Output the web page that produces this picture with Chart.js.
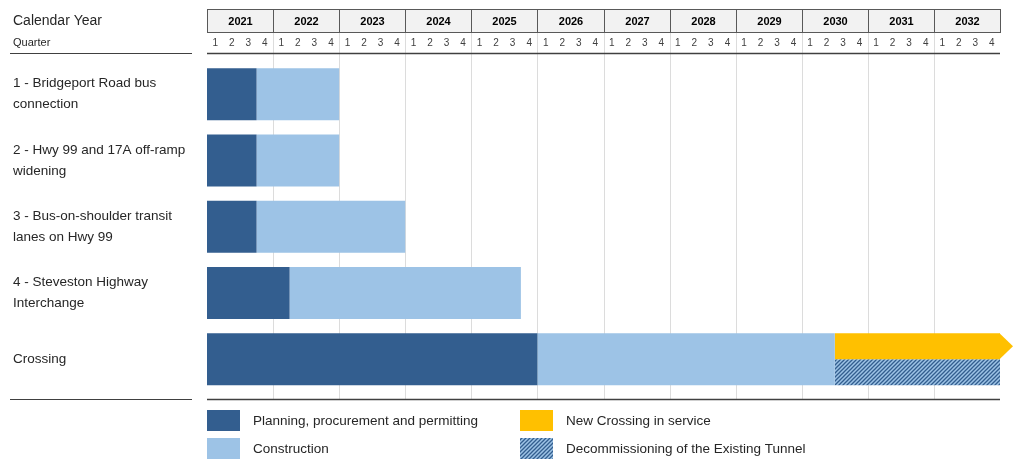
<!DOCTYPE html>
<html>
<head>
<meta charset="utf-8">
<script src="https://cdn.jsdelivr.net/npm/chart.js@4/dist/chart.umd.min.js"></script>
<style>
  html, body { margin: 0; padding: 0; background: #ffffff; }
  #wrap { width: 1024px; height: 468px; position: relative; }
</style>
</head>
<body>
<div id="wrap"><canvas id="c"></canvas></div>
<script>
// ---- data ----
const categories = [
  ['1 - Bridgeport Road bus', 'connection'],
  ['2 - Hwy 99 and 17A off-ramp', 'widening'],
  ['3 - Bus-on-shoulder transit', 'lanes on Hwy 99'],
  ['4 - Steveston Highway', 'Interchange'],
  'Crossing'
];
const planning = [[2021, 2021.75], [2021, 2021.75], [2021, 2021.75], [2021, 2022.25], [2021, 2026]];
const construction = [[2021.75, 2023], [2021.75, 2023], [2021.75, 2024], [2022.25, 2025.75], [2026, 2030.5]];
const newCrossingInService = [null, null, null, null, [2030.5, 2033]];
const decommissioning = [null, null, null, null, [2030.5, 2033]];
const yearTicks = [2021, 2022, 2023, 2024, 2025, 2026, 2027, 2028, 2029, 2030, 2031, 2032];
const quarterTicks = ['1', '2', '3', '4'];
const seriesLabels = ['Planning, procurement and permitting', 'Construction', 'New Crossing in service', 'Decommissioning of the Existing Tunnel'];

// ---- style ----
const DARK = '#335e8f';
const LIGHT = '#9dc3e6';
const YELLOW = '#ffc000';
const FONT = '"Liberation Sans", Arial, sans-serif';

function makeHatch() {
  const p = document.createElement('canvas');
  p.width = 4; p.height = 4;
  const g = p.getContext('2d');
  g.fillStyle = LIGHT; g.fillRect(0, 0, 4, 4);
  g.strokeStyle = DARK; g.lineWidth = 1.3;
  g.beginPath();
  g.moveTo(-1, 5); g.lineTo(5, -1);
  g.moveTo(-1, 1); g.lineTo(1, -1);
  g.moveTo(3, 5); g.lineTo(5, 3);
  g.stroke();
  return g.createPattern(p, 'repeat');
}
const HATCH = makeHatch();

const decor = {
  id: 'ganttDecor',
  beforeDatasetsDraw(chart) {
    const ctx = chart.ctx, xs = chart.scales.x;
    ctx.save();
    ctx.strokeStyle = '#dcdcdc';
    ctx.lineWidth = 1;
    for (const yr of yearTicks.slice(1)) {
      const px = Math.round(xs.getPixelForValue(yr)) + 0.5;
      ctx.beginPath(); ctx.moveTo(px, 33); ctx.lineTo(px, 399); ctx.stroke();
    }
    ctx.restore();
  },
  afterDatasetsDraw(chart) {
    const ctx = chart.ctx;
    const meta = chart.getDatasetMeta(2);
    const el = meta.data[4];
    if (!el) return;
    const p = el.getProps(['x', 'y', 'height'], true);
    ctx.save();
    ctx.fillStyle = YELLOW;
    ctx.beginPath();
    ctx.moveTo(p.x - 0.5, p.y - p.height / 2);
    ctx.lineTo(p.x + 13, p.y);
    ctx.lineTo(p.x - 0.5, p.y + p.height / 2);
    ctx.closePath();
    ctx.fill();
    ctx.restore();
  },
  afterDraw(chart) {
    const ctx = chart.ctx, xs = chart.scales.x;
    const left = xs.getPixelForValue(2021), right = xs.getPixelForValue(2033);
    ctx.save();
    // left header texts
    ctx.fillStyle = '#262626';
    ctx.textBaseline = 'middle';
    ctx.textAlign = 'left';
    ctx.font = '14px ' + FONT;
    ctx.fillText('Calendar Year', 13, 21);
    ctx.font = '11px ' + FONT;
    ctx.fillText('Quarter', 13, 43);
    // year boxes
    ctx.lineWidth = 1;
    for (const yr of yearTicks) {
      const a = Math.round(xs.getPixelForValue(yr)) + 0.5;
      const b = Math.round(xs.getPixelForValue(yr + 1)) + 0.5;
      ctx.fillStyle = '#f2f2f2';
      ctx.fillRect(a, 9.5, b - a, 23);
      ctx.strokeStyle = '#595959';
      ctx.strokeRect(a, 9.5, b - a, 23);
      ctx.fillStyle = '#000000';
      ctx.font = 'bold 11px ' + FONT;
      ctx.textAlign = 'center';
      ctx.fillText(String(yr), (a + b) / 2, 21.5);
      ctx.font = '10px ' + FONT;
      ctx.fillStyle = '#404040';
      quarterTicks.forEach((q, i) => {
        const cx = xs.getPixelForValue(yr + (i + 0.5) / 4);
        ctx.fillText(q, cx, 43);
      });
    }
    // rule lines
    ctx.strokeStyle = '#404040';
    ctx.lineWidth = 1.5;
    ctx.beginPath();
    ctx.moveTo(left, 53.5); ctx.lineTo(right, 53.5);
    ctx.moveTo(left, 399.5); ctx.lineTo(right, 399.5);
    ctx.stroke();
    ctx.lineWidth = 1;
    ctx.beginPath();
    ctx.moveTo(10, 53.5); ctx.lineTo(192, 53.5);
    ctx.moveTo(10, 399.5); ctx.lineTo(192, 399.5);
    ctx.stroke();
    // legend
    const fills = [DARK, LIGHT, YELLOW, HATCH];
    const pos = [[207, 410], [207, 438], [520, 410], [520, 438]];
    ctx.font = '13.5px ' + FONT;
    ctx.textAlign = 'left';
    seriesLabels.forEach((lab, i) => {
      const [x, y] = pos[i];
      ctx.fillStyle = fills[i];
      ctx.fillRect(x, y, 33, 21);
      ctx.fillStyle = '#262626';
      ctx.fillText(lab, x + 46, y + 11);
    });
    ctx.restore();
  }
};

new Chart(document.getElementById('c'), {
  type: 'bar',
  data: {
    labels: categories,
    datasets: [
      { label: seriesLabels[0], data: planning, backgroundColor: DARK, grouped: false, stack: 'a' },
      { label: seriesLabels[1], data: construction, backgroundColor: LIGHT, grouped: false, stack: 'a' },
      { label: seriesLabels[2], data: newCrossingInService, backgroundColor: YELLOW, stack: 'b', skipNull: true },
      { label: seriesLabels[3], data: decommissioning, backgroundColor: HATCH, stack: 'c', skipNull: true }
    ]
  },
  options: {
    indexAxis: 'y',
    responsive: true,
    maintainAspectRatio: false,
    animation: false,
    categoryPercentage: 0.784,
    barPercentage: 1,
    layout: { padding: { left: 13, right: 24, top: 61, bottom: 75.5 } },
    plugins: { legend: { display: false }, tooltip: { enabled: false } },
    scales: {
      x: {
        type: 'linear', min: 2021, max: 2033, stacked: false,
        display: false,
        ticks: { stepSize: 1 }
      },
      y: {
        grid: { display: false },
        border: { display: false },
        afterFit(scale) { scale.width = 194; },
        ticks: {
          crossAlign: 'far',
          padding: 0,
          color: '#262626',
          font: { family: FONT, size: 13.5, lineHeight: 1.55 }
        }
      }
    }
  },
  plugins: [decor]
});
</script>
</body>
</html>
